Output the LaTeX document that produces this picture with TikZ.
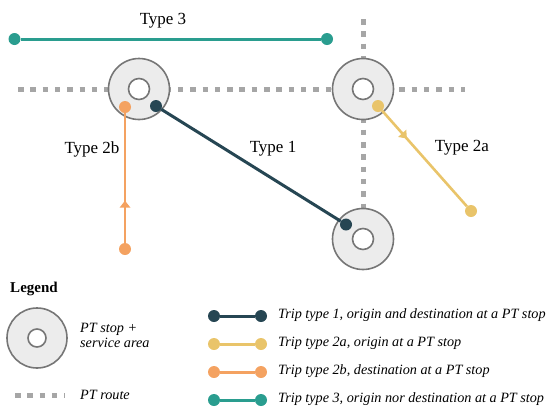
\documentclass[tikz,border=0pt]{standalone}
\usepackage{fontspec}
\setmainfont{Liberation Serif}
\usetikzlibrary{calc}
\definecolor{cteal}{HTML}{2A9D8F}
\definecolor{cdark}{HTML}{264653}
\definecolor{cyel}{HTML}{E9C46A}
\definecolor{corange}{HTML}{F4A261}
\definecolor{croute}{HTML}{A6A6A6}
\definecolor{cstopfill}{HTML}{ECECEC}
\definecolor{cstopline}{HTML}{767676}
\begin{document}
\begin{tikzpicture}[x=1pt,y=-1pt,
  stopouter/.style={circle,draw=cstopline,fill=cstopfill,line width=1.6pt,minimum size=61pt,inner sep=0pt},
  stopinner/.style={circle,draw=cstopline,fill=white,line width=1.6pt,minimum size=21pt,inner sep=0pt},
  route/.style={croute,line width=5pt,dash pattern=on 5.5pt off 6.8pt},
  dot/.style={circle,fill=#1,minimum size=12pt,inner sep=0pt},
  trip/.style={draw=#1,line width=3pt},
  lbl/.style={font=\fontsize{17}{19}\selectfont,inner sep=0pt},
  leg/.style={font=\fontsize{14.2}{16}\selectfont\itshape,inner sep=0pt,anchor=west}]
\useasboundingbox (0,0) rectangle (549,408);
% routes
\coordinate (rh1) at (18,89);
\coordinate (rh2) at (465,89);
\coordinate (rv1) at (363,19);
\coordinate (rv2) at (363,239);
\draw[route] (rh1) -- (rh2);
\draw[route] (rv1) -- (rv2);
% stops
\node[stopouter] (s1) at (139,89) {};
\node[stopinner] (s1i) at (s1) {};
\node[stopouter] (s2) at (363,89) {};
\node[stopinner] (s2i) at (s2) {};
\node[stopouter] (s3) at (363,239) {};
\node[stopinner] (s3i) at (s3) {};
% type 3
\node[dot=cteal] (t3a) at (14.5,39) {};
\node[dot=cteal] (t3b) at (327,39) {};
\draw[trip=cteal] (t3a) -- (t3b);
\node[lbl] (l3) at (163,21) {Type 3};
% type 1
\node[dot=cdark] (t1a) at (156,106) {};
\node[dot=cdark] (t1b) at (346,224.5) {};
\draw[trip=cdark] (t1a) -- (t1b);
\node[lbl] (l1) at (273,149) {Type 1};
% type 2b
\node[dot=corange] (t2ba) at (125,249) {};
\node[dot=corange] (t2bb) at (125,107) {};
\draw[trip=corange,line width=2.6pt] (t2ba) -- (t2bb);
\coordinate (m2b) at ($(t2ba)!0.34!(t2bb)$);
\coordinate (b2b) at ($(m2b)!7pt!(t2ba)$);
\fill[corange] (m2b) -- ($(b2b)!5.5pt!90:(m2b)$) -- ($(b2b)!5.5pt!-90:(m2b)$) -- cycle;
\node[lbl] (l2b) at (92,149) {Type 2b};
% type 2a
\node[dot=cyel] (t2aa) at (378,106) {};
\node[dot=cyel] (t2ab) at (471,211) {};
\draw[trip=cyel,line width=2.6pt] (t2aa) -- (t2ab);
\coordinate (m2a) at ($(t2aa)!0.31!(t2ab)$);
\coordinate (b2a) at ($(m2a)!7pt!(t2aa)$);
\fill[cyel] (m2a) -- ($(b2a)!5.5pt!90:(m2a)$) -- ($(b2a)!5.5pt!-90:(m2a)$) -- cycle;
\node[lbl] (l2a) at (462,148) {Type 2a};
% legend
\node[font=\fontsize{15}{17}\selectfont\bfseries,inner sep=0pt] (lg) at (34,289) {Legend};
\node[stopouter,minimum size=60pt] (ls) at (37,338) {};
\node[stopinner,minimum size=18pt] (lsi) at (ls) {};
\node[leg,align=left] (lst) at (80,335) {PT stop +\\[-1pt]service area};
\coordinate (lr1) at (15,395);
\coordinate (lr2) at (65,395);
\draw[route] (lr1) -- (lr2);
\node[leg] (lrt) at (80,395) {PT route};
\foreach \c/\y/\t [count=\i] in {cdark/316/{Trip type 1, origin and destination at a PT stop},
  cyel/344/{Trip type 2a, origin at a PT stop},
  corange/372/{Trip type 2b, destination at a PT stop},
  cteal/400/{Trip type 3, origin nor destination at a PT stop}}{
  \node[dot=\c] (la\i) at (214,\y) {};
  \node[dot=\c] (lb\i) at (261,\y) {};
  \draw[trip=\c] (la\i) -- (lb\i);
  \node[leg] (lt\i) at (278,\y-1) {\t};
}
\end{tikzpicture}
\end{document}
